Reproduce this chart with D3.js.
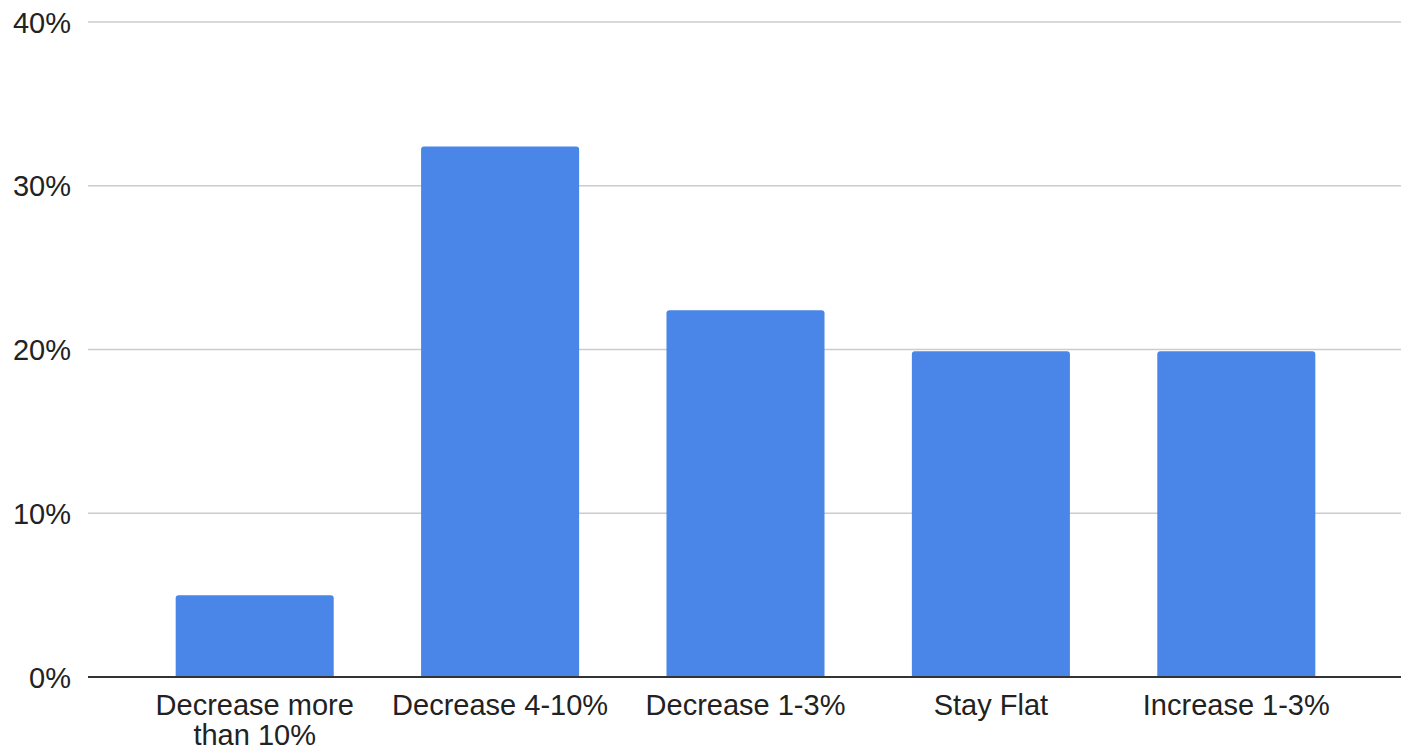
<!DOCTYPE html>
<html>
<head>
<meta charset="utf-8">
<script src="https://cdn.jsdelivr.net/npm/d3@7"></script>
<style>
  html, body { margin: 0; padding: 0; background: #fff; }
  svg { display: block; }
  text { font-family: "Liberation Sans", Arial, sans-serif; fill: #222; }
</style>
</head>
<body>
<svg id="chart" width="1405" height="748"></svg>
<script>
// Share of responses per expected change
const categories = ["Decrease more than 10%", "Decrease 4-10%", "Decrease 1-3%", "Stay Flat", "Increase 1-3%"];
const shares = [5.0, 32.4, 22.4, 19.9, 19.9];
const yTicks = [0, 10, 20, 30, 40];

const svg = d3.select("#chart");
const W = 1405, H = 748;
const plot = { left: 88, right: 1401, top: 22, bottom: 677 };

const y = d3.scaleLinear().domain([0, 40]).range([plot.bottom, plot.top]);
const x = d3.scaleBand()
  .domain(categories)
  .range([132, 1359])
  .paddingInner(0.356)
  .paddingOuter(0.178);

// horizontal gridlines
svg.append("g")
  .selectAll("line")
  .data(yTicks.filter(d => d !== 0))
  .join("line")
  .attr("x1", plot.left).attr("x2", plot.right)
  .attr("y1", d => y(d)).attr("y2", d => y(d))
  .attr("stroke", "#cccccc")
  .attr("stroke-width", 1.6);

// y tick labels
const yAxis = d3.axisLeft(y).tickValues(yTicks).tickFormat(d => d + "%").tickSize(0).tickPadding(0);
const gy = svg.append("g").attr("transform", `translate(71,0)`).call(yAxis);
gy.select(".domain").remove();
gy.selectAll("text")
  .attr("font-size", 29)
  .attr("font-family", "Liberation Sans, Arial, sans-serif")
  .attr("fill", "#222")
  .attr("dy", "0.35em");

// bars with rounded top corners
const r = 3;
function barPath(x0, w, yTop, yBase) {
  return `M${x0},${yBase} L${x0},${yTop + r} Q${x0},${yTop} ${x0 + r},${yTop}` +
         ` L${x0 + w - r},${yTop} Q${x0 + w},${yTop} ${x0 + w},${yTop + r}` +
         ` L${x0 + w},${yBase} Z`;
}
svg.append("g")
  .selectAll("path")
  .data(categories.map((c, i) => ({ c, v: shares[i] })))
  .join("path")
  .attr("d", d => barPath(x(d.c), x.bandwidth(), y(d.v), y(0)))
  .attr("fill", "#4a86e8");

// baseline
svg.append("line")
  .attr("x1", plot.left).attr("x2", plot.right)
  .attr("y1", y(0)).attr("y2", y(0))
  .attr("stroke", "#333")
  .attr("stroke-width", 2);

// category labels, wrapped to the band step
const xAxis = d3.axisBottom(x).tickSize(0).tickPadding(0);
const gx = svg.append("g").attr("transform", `translate(0,${y(0)})`).call(xAxis);
gx.select(".domain").remove();
gx.selectAll("text")
  .attr("font-size", 29)
  .attr("font-family", "Liberation Sans, Arial, sans-serif")
  .attr("fill", "#222")
  .attr("y", 38)
  .attr("dy", 0)
  .each(function (d) {
    const t = d3.select(this);
    const words = d.split(" ");
    const maxW = x.step() - 10;
    t.text(null);
    let line = [];
    let lineNo = 0;
    let tspan = t.append("tspan").attr("x", 0).attr("dy", 0);
    words.forEach(w => {
      line.push(w);
      tspan.text(line.join(" "));
      if (tspan.node().getComputedTextLength() > maxW && line.length > 1) {
        line.pop();
        tspan.text(line.join(" "));
        line = [w];
        lineNo++;
        tspan = t.append("tspan").attr("x", 0).attr("dy", 30).text(w);
      }
    });
  });
</script>
</body>
</html>
